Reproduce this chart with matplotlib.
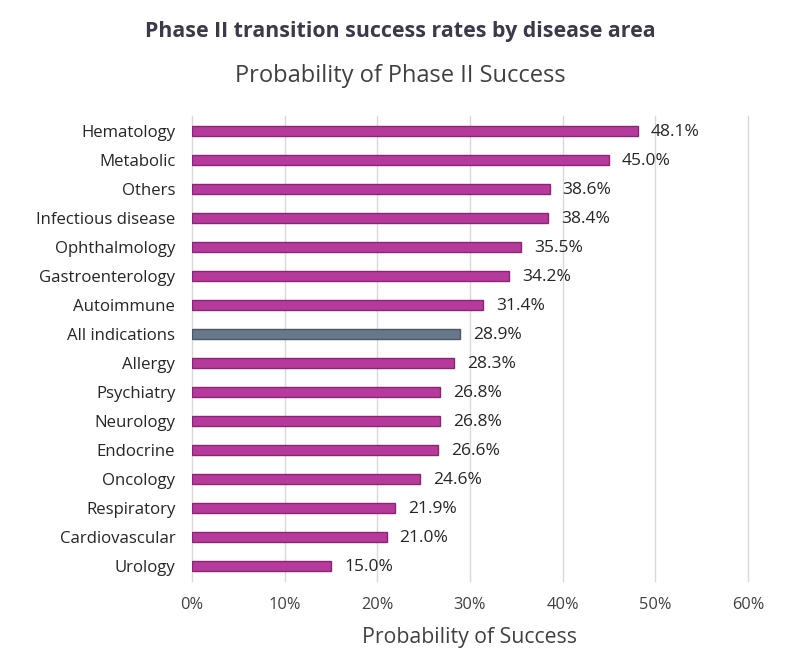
import matplotlib
matplotlib.use("Agg")
import matplotlib.pyplot as plt
from matplotlib.ticker import FuncFormatter

# data, top to bottom as shown
categories = ["Hematology", "Metabolic", "Others", "Infectious disease", "Ophthalmology",
              "Gastroenterology", "Autoimmune", "All indications", "Allergy", "Psychiatry",
              "Neurology", "Endocrine", "Oncology", "Respiratory", "Cardiovascular", "Urology"]
values = [48.1, 45.0, 38.6, 38.4, 35.5, 34.2, 31.4, 28.9, 28.3, 26.8, 26.8, 26.6, 24.6, 21.9, 21.0, 15.0]
highlight = "All indications"

plt.rcParams['font.family'] = ['Open Sans', 'DejaVu Sans']
text_col = "#262626"

fig = plt.figure(figsize=(8, 6.55), dpi=100)
ax = fig.add_axes([0.24, 0.1137, 0.695, 0.7085])

pos = list(range(len(categories)))
colors = ["#69778a" if c == highlight else "#b63a9b" for c in categories]
edges = ["#4b5666" if c == highlight else "#8c2476" for c in categories]
ax.barh(pos, values, height=0.36, color=colors, edgecolor=edges, linewidth=1, zorder=3)

for p, v in zip(pos, values):
    ax.text(v + 1.4, p + 0.04, f"{v:.1f}%", va="center", ha="left", fontsize=12.5, color=text_col)

ax.set_yticks(pos)
ax.set_yticklabels(categories, fontsize=12.1, color=text_col)
ax.set_ylim(len(categories) - 0.5, -0.5)
ax.set_xlim(0, 60)
ax.set_xticks(range(0, 61, 10))
ax.xaxis.set_major_formatter(FuncFormatter(lambda x, _: f"{x:.0f}%"))
ax.tick_params(axis="x", labelsize=11.8, colors="#404040", length=0, pad=12)
ax.tick_params(axis="y", length=0, pad=12)
ax.grid(axis="x", color="#d9d9d9", linewidth=1, zorder=0)
for gl in ax.get_xgridlines():
    gl.set_clip_on(False)
for s in ax.spines.values():
    s.set_visible(False)

ax.set_xlabel("Probability of Success", fontsize=15.3, color="#404040", labelpad=10)
fig.text(0.5, 0.952, "Phase II transition success rates by disease area", ha="center",
         va="center", fontsize=15.4, fontweight="bold", color="#3a3a48")
fig.text(0.5, 0.884, "Probability of Phase II Success", ha="center", va="center",
         fontsize=17, color="#404040")

fig.savefig("out.png", dpi=100, facecolor="white")
